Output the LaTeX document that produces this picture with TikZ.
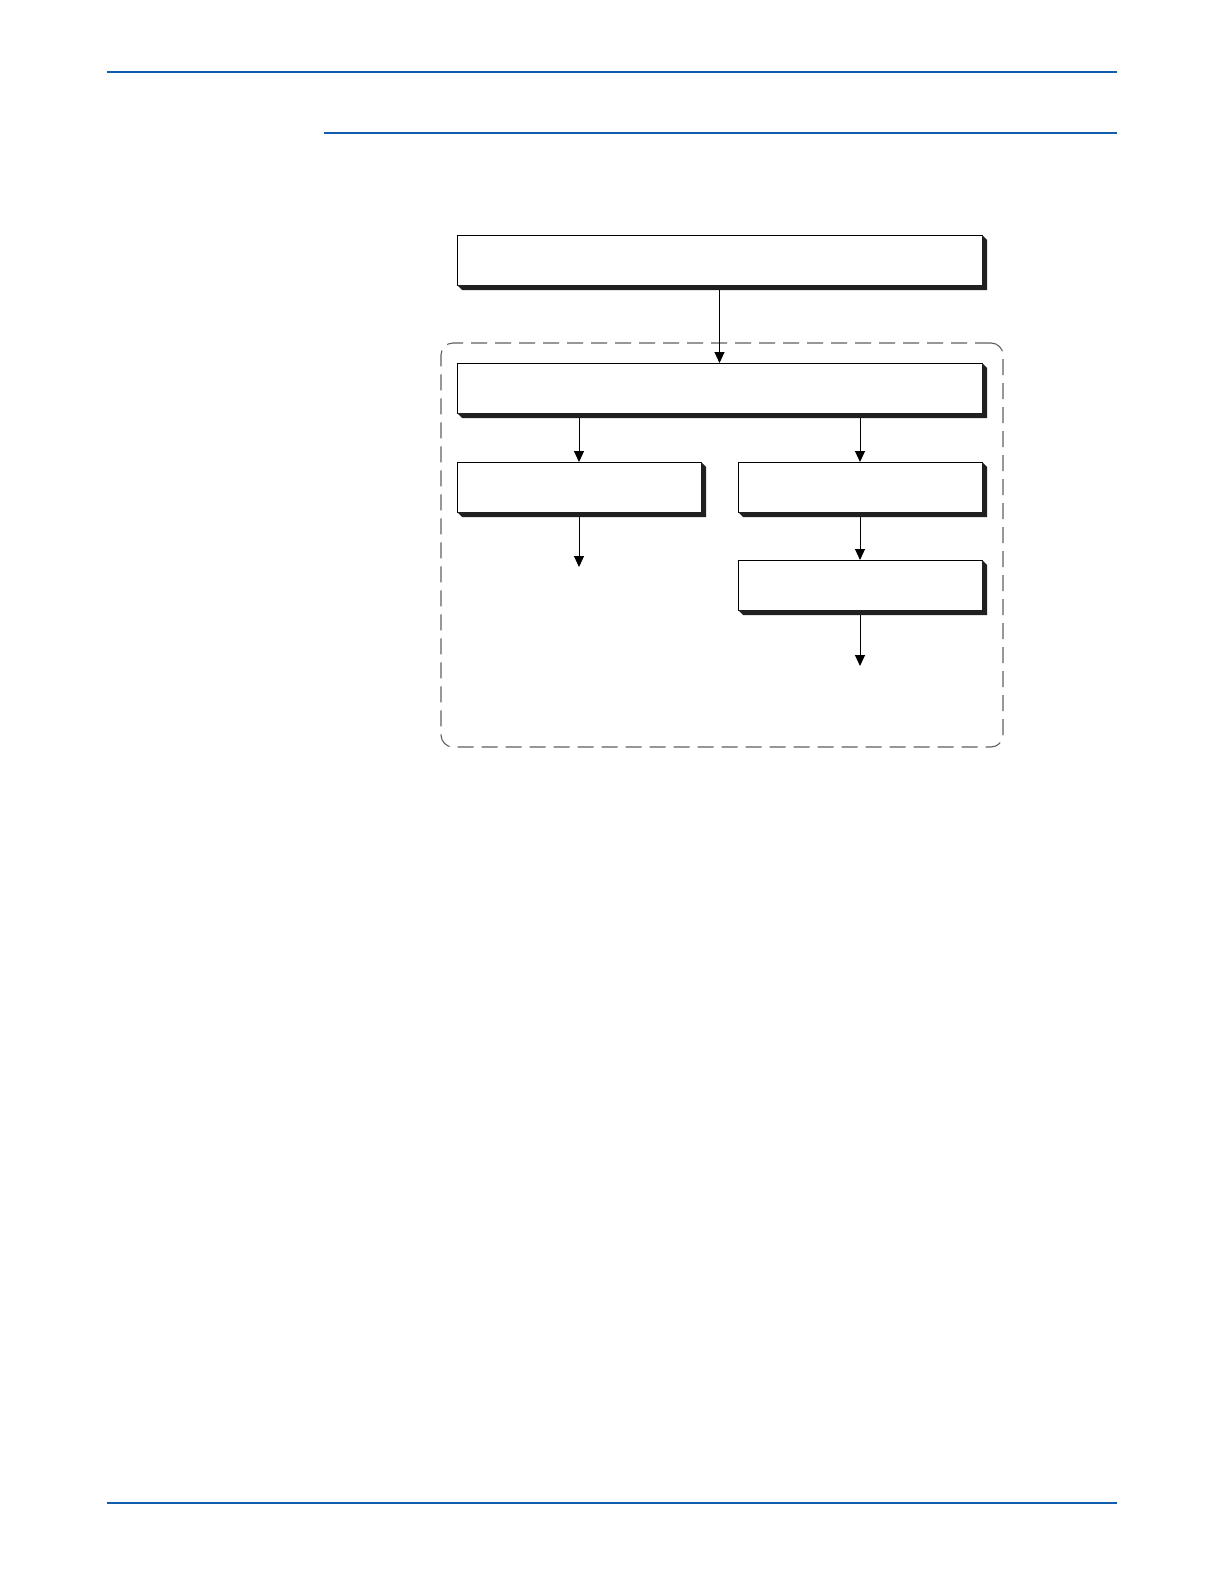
\documentclass[tikz,border=0pt]{standalone}
\usetikzlibrary{arrows.meta,calc}
\definecolor{rulblue}{RGB}{18,92,174}
\definecolor{shadec}{RGB}{32,32,32}
\definecolor{dashgray}{RGB}{96,96,96}
\newcommand{\boxshade}[1]{%
  \fill[shadec] (#1.south west) -- ++(5,5) -- ($(#1.south east)+(5,5)$) -- ($(#1.north east)+(5,5)$) -- (#1.north east) -- (#1.south east) -- cycle;}
\begin{document}
\begin{tikzpicture}[x=1pt,y=-1pt,
  flowbox/.style={draw=black,fill=white,line width=0.9pt,inner sep=0pt,outer sep=0pt,anchor=north west},
  groupframe/.style={draw=dashgray,line width=1.1pt,dash pattern=on 16pt off 8pt,rounded corners=12pt,inner sep=0pt,outer sep=0pt,anchor=north west},
  arr/.style={draw=black,line width=1pt,-{Triangle[width=10pt,length=11pt]}},
  toprule/.style={draw=rulblue,line width=2.6pt},
  subrule/.style={draw=rulblue,line width=1.4pt}]
\useasboundingbox (0,0) rectangle (1224,1584);
\fill[white] (0,0) rectangle (1224,1584);
% page rules
\coordinate (r1a) at (107,72); \coordinate (r1b) at (1117,72);
\coordinate (r2a) at (324,133); \coordinate (r2b) at (1117,133);
\coordinate (r3a) at (107,1503); \coordinate (r3b) at (1117,1503);
\draw[toprule] (r1a) -- (r1b);
\draw[subrule] (r2a) -- (r2b);
\draw[toprule] (r3a) -- (r3b);
% dashed group
\node[groupframe,minimum width=562pt,minimum height=404pt] (grp) at (441,343) {};
% boxes
\node[flowbox,minimum width=525pt,minimum height=50pt] (b1) at (457,235) {};
\node[flowbox,minimum width=525pt,minimum height=50pt] (b2) at (457,363) {};
\node[flowbox,minimum width=244pt,minimum height=50pt] (b3) at (457,462) {};
\node[flowbox,minimum width=244pt,minimum height=50pt] (b4) at (738,462) {};
\node[flowbox,minimum width=244pt,minimum height=50pt] (b5) at (738,560) {};
\boxshade{b1}\boxshade{b2}\boxshade{b3}\boxshade{b4}\boxshade{b5}
% free ends
\coordinate (e3) at (579,567);
\coordinate (e5) at (860,666);
% connectors
\draw[arr] ($(b1.south)+(0,5)$) -- (b2.north);
\draw[arr] ($(b3.north |- b2.south)+(0,5)$) -- (b3.north);
\draw[arr] ($(b4.north |- b2.south)+(0,5)$) -- (b4.north);
\draw[arr] ($(b3.south)+(0,5)$) -- (e3);
\draw[arr] ($(b4.south)+(0,5)$) -- (b5.north);
\draw[arr] ($(b5.south)+(0,5)$) -- (e5);
\end{tikzpicture}
\end{document}
